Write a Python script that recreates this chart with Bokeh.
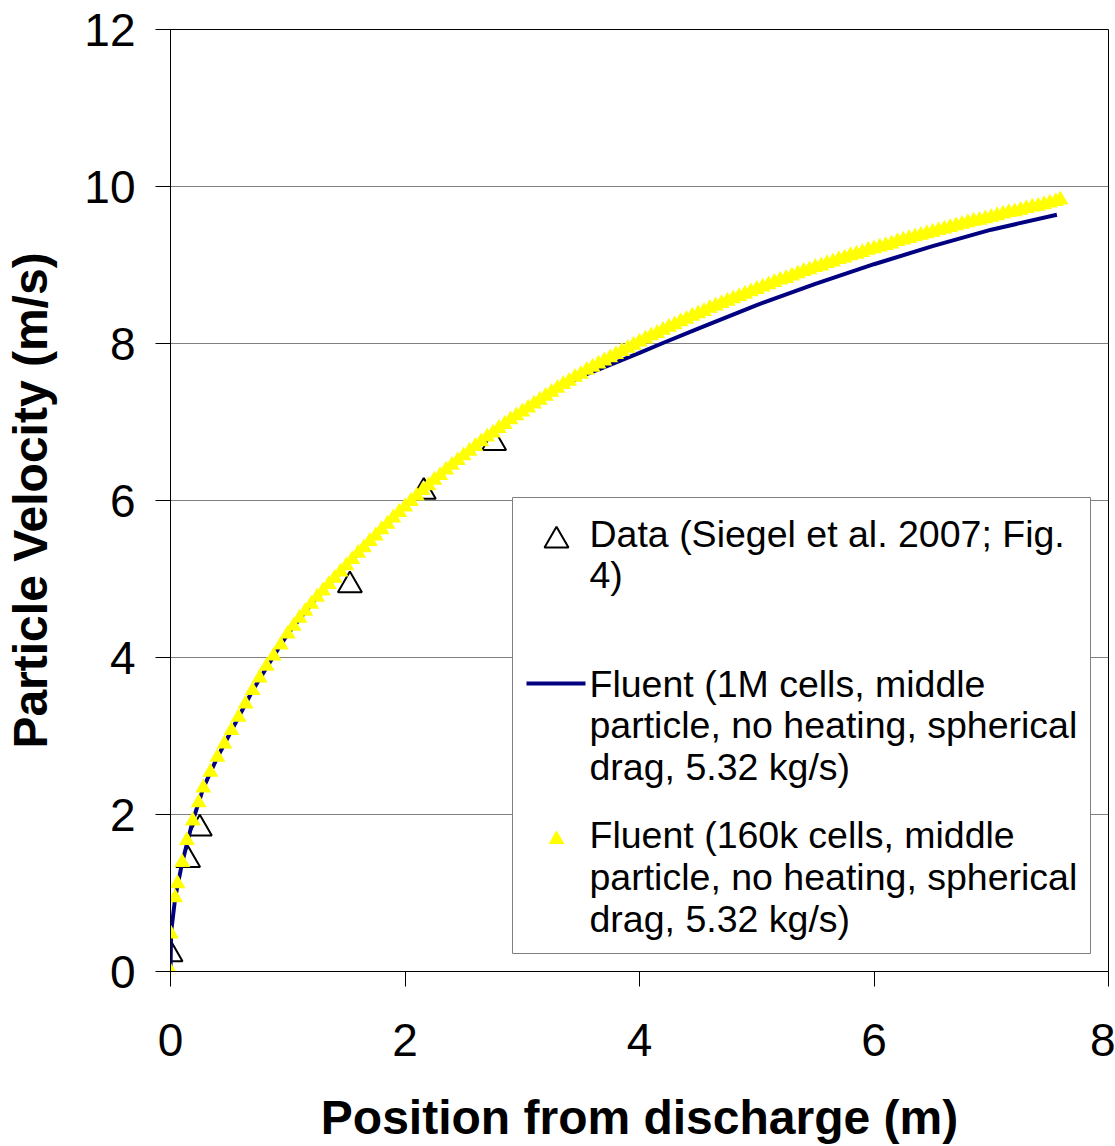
from bokeh.plotting import figure
from bokeh.models import Range1d, FixedTicker, Label
from bokeh.embed import file_html
from bokeh.resources import INLINE

# ---------------- data ----------------
data_x = [0.0, 0.15, 0.25, 1.53, 2.16, 2.76]
data_y = [0.22, 1.42, 1.82, 4.92, 6.11, 6.73]

fine_x = [0.0, 0.005, 0.04, 0.10, 0.19, 0.28, 0.40, 0.52, 0.70, 0.88,
          1.00, 1.25, 1.50, 1.75, 2.00, 2.25, 2.50, 2.75, 3.00, 3.25,
          3.50, 3.67, 4.00, 4.19, 4.50, 5.00, 5.50, 6.00, 6.50, 7.00, 7.56]
fine_y = [0.0, 0.50, 0.94, 1.39, 1.92, 2.34, 2.73, 3.07, 3.58, 4.02,
          4.30, 4.77, 5.17, 5.55, 5.92, 6.26, 6.57, 6.86, 7.13, 7.37,
          7.58, 7.68, 7.88, 8.00, 8.19, 8.49, 8.76, 9.01, 9.24, 9.45, 9.64]

coarse_x = [0.0, 0.003, 0.04, 0.06, 0.10, 0.14, 0.19, 0.24, 0.28, 0.34,
            0.40, 0.46, 0.52, 0.58, 0.64, 0.70, 0.76, 0.82, 0.88, 0.94,
            1.00, 1.05, 1.10, 1.15, 1.20, 1.25, 1.30, 1.35, 1.40, 1.45,
            1.50, 1.55, 1.60, 1.65, 1.70, 1.75, 1.80, 1.85, 1.90, 1.95,
            2.00, 2.05, 2.10, 2.15, 2.20, 2.25, 2.30, 2.35, 2.40, 2.45,
            2.50, 2.55, 2.60, 2.65, 2.70, 2.75, 2.80, 2.85, 2.90, 2.95,
            3.00, 3.05, 3.10, 3.15, 3.20, 3.25, 3.30, 3.35, 3.40, 3.45,
            3.50, 3.55, 3.60, 3.65, 3.70, 3.75, 3.80, 3.85, 3.90, 3.95,
            4.00, 4.05, 4.10, 4.15, 4.20, 4.25, 4.30, 4.35, 4.40, 4.45,
            4.50, 4.55, 4.60, 4.65, 4.70, 4.75, 4.80, 4.85, 4.90, 4.95,
            5.00, 5.05, 5.10, 5.15, 5.20, 5.25, 5.30, 5.35, 5.40, 5.45,
            5.50, 5.55, 5.60, 5.65, 5.70, 5.75, 5.80, 5.85, 5.90, 5.95,
            6.00, 6.05, 6.10, 6.15, 6.20, 6.25, 6.30, 6.35, 6.40, 6.45,
            6.50, 6.55, 6.60, 6.65, 6.70, 6.75, 6.80, 6.85, 6.90, 6.95,
            7.00, 7.05, 7.10, 7.15, 7.20, 7.25, 7.30, 7.35, 7.40, 7.45,
            7.50, 7.55, 7.59]
coarse_y = [0.0, 0.48, 0.94, 1.12, 1.39, 1.67, 1.92, 2.15, 2.34, 2.54,
            2.73, 2.90, 3.07, 3.24, 3.41, 3.58, 3.74, 3.89, 4.02, 4.16,
            4.30, 4.40, 4.50, 4.59, 4.68, 4.77, 4.85, 4.93, 5.01, 5.09,
            5.17, 5.25, 5.33, 5.40, 5.48, 5.55, 5.63, 5.70, 5.78, 5.85,
            5.92, 5.99, 6.06, 6.13, 6.19, 6.26, 6.32, 6.39, 6.45, 6.51,
            6.57, 6.63, 6.69, 6.75, 6.81, 6.86, 6.92, 6.97, 7.03, 7.08,
            7.13, 7.18, 7.23, 7.28, 7.33, 7.38, 7.43, 7.48, 7.52, 7.57,
            7.61, 7.66, 7.70, 7.74, 7.78, 7.82, 7.86, 7.90, 7.94, 7.98,
            8.02, 8.06, 8.10, 8.13, 8.17, 8.21, 8.24, 8.28, 8.31, 8.35,
            8.38, 8.41, 8.45, 8.48, 8.51, 8.54, 8.57, 8.60, 8.63, 8.66,
            8.69, 8.72, 8.75, 8.78, 8.81, 8.83, 8.86, 8.89, 8.92, 8.94,
            8.97, 8.99, 9.02, 9.04, 9.07, 9.09, 9.12, 9.14, 9.16, 9.19,
            9.21, 9.23, 9.25, 9.27, 9.30, 9.32, 9.34, 9.36, 9.38, 9.40,
            9.42, 9.44, 9.46, 9.48, 9.50, 9.52, 9.54, 9.56, 9.57, 9.59,
            9.61, 9.63, 9.65, 9.67, 9.68, 9.70, 9.72, 9.74, 9.75, 9.77,
            9.79, 9.81, 9.83]

x_ticks = [0, 2, 4, 6, 8]
y_ticks = [0, 2, 4, 6, 8, 10, 12]

legend_lines = [
    ["Data (Siegel et al. 2007; Fig.", "4)"],
    ["Fluent (1M cells, middle", "particle, no heating, spherical", "drag, 5.32 kg/s)"],
    ["Fluent (160k cells, middle", "particle, no heating, spherical", "drag, 5.32 kg/s)"],
]

FONT = "Liberation Sans"

# ---------------- figure ----------------
p = figure(width=1115, height=1146, output_backend="svg", toolbar_location=None,
           x_range=Range1d(0, 8), y_range=Range1d(0, 12),
           min_border_left=170, min_border_right=7, min_border_top=29,
           min_border_bottom=175, background_fill_color="white",
           border_fill_color="white")
p.outline_line_color = "black"
p.outline_line_width = 1

# pixel ranges for legend decoration (frame pixels, origin bottom-left)
FW, FH = 938, 942
p.extra_x_ranges = {"px": Range1d(0, FW)}
p.extra_y_ranges = {"py": Range1d(0, FH)}

p.xgrid.visible = False
p.ygrid.grid_line_color = "#808080"
p.ygrid.grid_line_width = 1
p.ygrid.ticker = FixedTicker(ticks=y_ticks)

for ax in (p.xaxis[0], p.yaxis[0]):
    ax.axis_line_color = "black"
    ax.axis_line_width = 1
    ax.major_tick_line_color = "black"
    ax.major_tick_in = 0
    ax.major_tick_out = 15
    ax.minor_tick_line_color = None
    ax.major_label_text_font = FONT
    ax.major_label_text_font_size = "46px"
    ax.major_label_text_color = "black"
    ax.axis_label_text_font = FONT
    ax.axis_label_text_font_size = "48px"
    ax.axis_label_text_font_style = "bold"
    ax.axis_label_text_color = "black"

p.xaxis.ticker = FixedTicker(ticks=x_ticks)
p.yaxis.ticker = FixedTicker(ticks=y_ticks)
p.xaxis.axis_label = "Position from discharge (m)"
p.yaxis.axis_label = "Particle Velocity (m/s)"
p.xaxis.major_label_standoff = 37
p.yaxis.major_label_standoff = 20
p.xaxis.axis_label_standoff = 32
p.yaxis.axis_label_standoff = 24

# ---------------- series ----------------
p.scatter(data_x, data_y, marker="triangle", size=24, fill_color=None,
          line_color="black", line_width=2)
p.line(fine_x, fine_y, line_color="#000080", line_width=4)
p.scatter(coarse_x, coarse_y, marker="triangle", size=16,
          fill_color="#FFFF00", line_color=None)

# ---------------- legend (drawn by hand to match Excel layout) ----------------
p.quad(left=[342], right=[920], bottom=[18], top=[474],
       x_range_name="px", y_range_name="py",
       fill_color="white", line_color="#808080", line_width=1)
p.scatter([386], [431], marker="triangle", size=24, fill_color=None,
          line_color="black", line_width=2, x_range_name="px", y_range_name="py")
p.line([356, 415], [288, 288], line_color="#000080", line_width=4,
       x_range_name="px", y_range_name="py")
p.scatter([386], [132], marker="triangle", size=16, fill_color="#FFFF00",
          line_color=None, x_range_name="px", y_range_name="py")

baselines = [[438, 397], [288, 247, 205], [137, 95, 53]]
for lines, ys in zip(legend_lines, baselines):
    for txt, yy in zip(lines, ys):
        p.add_layout(Label(x=419, y=yy, x_range_name="px", y_range_name="py",
                           text=txt, text_font=FONT, text_font_size="37.5px",
                           text_color="black", text_baseline="alphabetic",
                           text_align="left"))

open("out.html", "w").write(file_html(p, INLINE))
